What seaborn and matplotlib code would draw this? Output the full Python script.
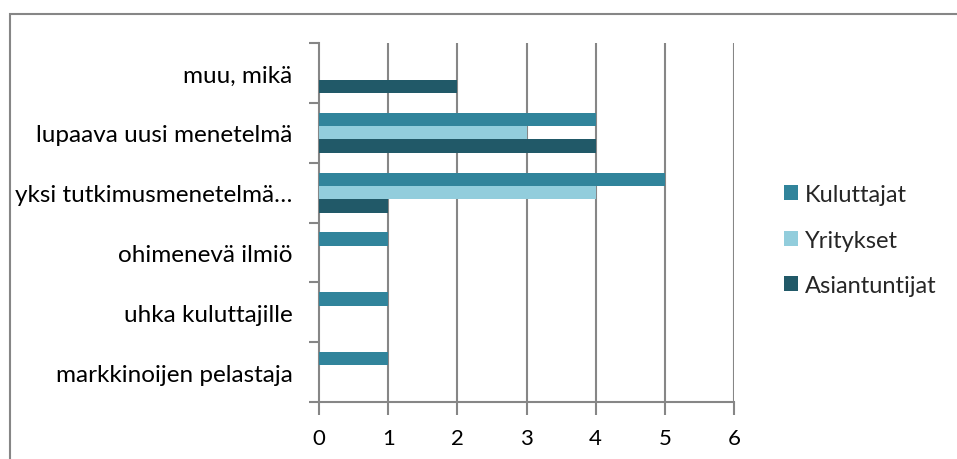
import matplotlib
matplotlib.use("Agg")
import matplotlib.pyplot as plt
import seaborn as sns
import pandas as pd
from matplotlib.patches import Rectangle, Patch

categories = ["muu, mikä", "lupaava uusi menetelmä", "yksi tutkimusmenetelmä…",
              "ohimenevä ilmiö", "uhka kuluttajille", "markkinoijen pelastaja"]
series = ["Kuluttajat", "Yritykset", "Asiantuntijat"]
kuluttajat = [None, 4, 5, 1, 1, 1]
yritykset = [None, 3, 4, None, None, None]
asiantuntijat = [2, 4, 1, None, None, None]
x_ticks = [0, 1, 2, 3, 4, 5, 6]
colors = ["#31849B", "#92CDDC", "#215968"]

rows = []
for name, vals in zip(series, [kuluttajat, yritykset, asiantuntijat]):
    for cat, v in zip(categories, vals):
        if v is not None:
            rows.append({"kategoria": cat, "sarja": name, "arvo": v})
df = pd.DataFrame(rows)

sns.set_theme(style="white")
plt.rcParams["font.family"] = ["Lato", "DejaVu Sans"]

fig = plt.figure(figsize=(9.57, 4.6), dpi=100)
ax = fig.add_axes([319 / 957, 1 - 403 / 460, 415 / 957, 359 / 460])

sns.barplot(data=df, y="kategoria", x="arvo", hue="sarja", order=categories,
            hue_order=series, palette=colors, orient="h", width=0.667,
            saturation=1, linewidth=0, ax=ax, legend=False, zorder=3)

grid_c = "#868686"
ax.set_xlim(0, 6)
ax.set_ylim(5.5, -0.5)
ax.set_xticks(x_ticks)
ax.set_xticklabels([str(t) for t in x_ticks])
for t in x_ticks[1:]:
    ax.axvline(t, color=grid_c, lw=1.5, zorder=1)

ax.set_yticks(range(len(categories)))
ax.set_yticklabels(categories)
ax.set_yticks([i - 0.5 for i in range(len(categories) + 1)], minor=True)
ax.tick_params(axis="y", which="major", length=0, pad=19, labelsize=17.5,
               labelcolor="black")
ax.tick_params(axis="y", which="minor", length=7, width=1.5, color=grid_c,
               left=True)
ax.tick_params(axis="x", length=9, width=1.5, color=grid_c, pad=10,
               labelsize=16, labelcolor="black", bottom=True)

for s in ["top", "right"]:
    ax.spines[s].set_visible(False)
for s in ["left", "bottom"]:
    ax.spines[s].set_color(grid_c)
    ax.spines[s].set_linewidth(1.5)
ax.set_xlabel("")
ax.set_ylabel("")

handles = [Patch(facecolor=c, edgecolor="none") for c in colors]
fig.legend(handles, series, loc="center left",
           bbox_to_anchor=(772 / 957, 1 - 241 / 460), frameon=False,
           fontsize=17, handlelength=0.6, handleheight=0.6,
           handletextpad=0.3, labelspacing=1.05, borderpad=0)

fig.patches.append(Rectangle((10 / 957, -0.2), 1.2, 1.2 - 15 / 460,
                             transform=fig.transFigure, fill=False,
                             edgecolor=grid_c, lw=1.5, zorder=0))

fig.savefig("out.png", dpi=100)
